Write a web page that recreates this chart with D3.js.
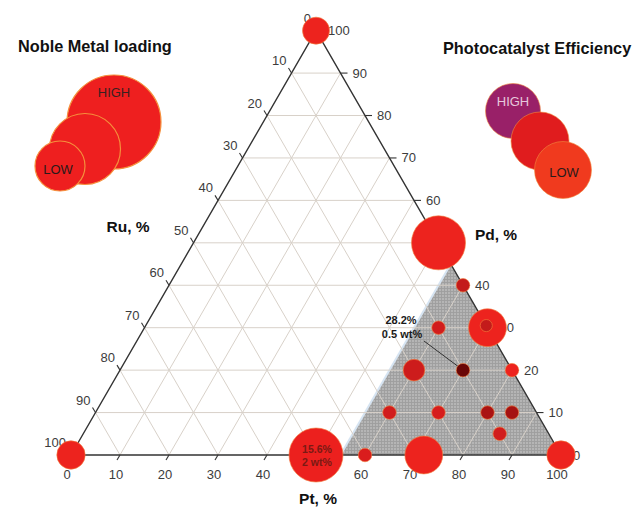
<!DOCTYPE html>
<html>
<head>
<meta charset="utf-8">
<script src="https://cdn.jsdelivr.net/npm/d3@7"></script>
<style>
  html, body { margin: 0; padding: 0; background: #fff; }
  svg { display: block; font-family: "Liberation Sans", Arial, sans-serif; }
</style>
</head>
<body>
<svg id="chart" width="644" height="508"></svg>
<script>
// Composition of each catalyst (Pt, Pd, Ru in %), its noble metal loading (wt%)
// and its photocatalytic efficiency (%).
const ptValues  = [0, 0, 100, 50, 50, 60, 72, 60, 70, 69.5, 60, 70, 80, 60, 60, 70, 80, 85, 85];
const pdValues  = [100, 0, 0, 50, 0, 0, 0, 40, 30, 30.5, 30, 20, 20, 20, 10, 10, 10, 10, 5];
const ruValues  = [0, 100, 0, 0, 50, 40, 28, 0, 0, 0, 10, 10, 0, 20, 30, 20, 10, 5, 10];
const loadingWt = [1.0, 1.05, 1.05, 2.0, 2.0, 0.5, 1.4, 0.5, 1.4, 0.45, 0.5, 0.5, 0.5, 0.8, 0.5, 0.5, 0.5, 0.5, 0.5];
const efficiency = [15, 15, 15, 15, 15.6, 18, 15, 20.5, 15, 20.5, 19, 28.2, 15, 19.5, 19, 18.5, 23, 23.5, 19];

// Points that carry a written value
const annotated = [4, 11];

// Axis ticks
const tickValues = d3.range(0, 101, 10);
const gridValues = d3.range(10, 100, 10);

// Shaded composition domain: Pt >= 55 %
const shadedPtMin = 55;

const svg = d3.select("#chart");

// Ternary frame: bottom edge runs Pt 0 -> 100, height encodes Pd.
const side = 490;
const xScale = d3.scaleLinear().domain([0, 100]).range([71, 71 + side]);
const yScale = d3.scaleLinear().domain([0, 100]).range([455, 455 - side * Math.sqrt(3) / 2]);
const px = (pt, pd) => xScale(pt + pd / 2);
const py = (pd) => yScale(pd);
const P = (pt, pd) => [px(pt, pd), py(pd)];

const rScale = d3.scaleLinear().domain([0, 2]).range([0, 27]);
const colorScale = d3.scaleLinear()
  .domain([10, 16, 20, 24, 28.2])
  .range(["#f03c1e", "#ec1e1e", "#c81c1c", "#a01010", "#6a0606"]);

// Mesh pattern for the shaded region
const defs = svg.append("defs");
const pat = defs.append("pattern").attr("id", "mesh")
  .attr("width", 3).attr("height", 3).attr("patternUnits", "userSpaceOnUse");
pat.append("rect").attr("width", 3).attr("height", 3).attr("fill", "#b5b5b5");
pat.append("path").attr("d", "M0,0.5H3M0.5,0V3").attr("stroke", "#9e9e9e").attr("stroke-width", 0.9);

const line = d3.line();

// Shaded region
const shadePts = [P(shadedPtMin, 0), P(100, 0), P(shadedPtMin, 100 - shadedPtMin)];
svg.append("path").attr("d", line(shadePts) + "Z").attr("fill", "url(#mesh)");
svg.append("path").attr("d", line([P(shadedPtMin, 0), P(shadedPtMin, 100 - shadedPtMin)]))
  .attr("stroke", "#d6e4f2").attr("stroke-width", 2).attr("fill", "none");

// Grid lines
const grid = svg.append("g").attr("stroke", "#d8d1c9").attr("stroke-width", 1).attr("fill", "none");
gridValues.forEach(v => {
  grid.append("path").attr("d", line([P(0, v), P(100 - v, v)]));        // Pd constant
  grid.append("path").attr("d", line([P(v, 0), P(v, 100 - v)]));        // Pt constant
  grid.append("path").attr("d", line([P(100 - v, 0), P(0, 100 - v)]));  // Ru constant
});

// Triangle frame
svg.append("path").attr("d", line([P(0, 0), P(100, 0), P(0, 100)]) + "Z")
  .attr("fill", "none").attr("stroke", "#333").attr("stroke-width", 1.4);

// Ticks and tick labels
const ticks = svg.append("g").attr("stroke", "#333").attr("stroke-width", 1.1);
const labels = svg.append("g").attr("font-size", 13).attr("fill", "#3c3c3c");
tickValues.forEach(v => {
  // Pt (bottom)
  const [bx, by] = P(v, 0);
  ticks.append("line").attr("x1", bx).attr("y1", by).attr("x2", bx - 3).attr("y2", by + 5);
  labels.append("text").attr("x", bx - 4).attr("y", by + 24).attr("text-anchor", "middle").text(v);
  // Pd (right)
  const [rx, ry] = P(100 - v, v);
  ticks.append("line").attr("x1", rx).attr("y1", ry).attr("x2", rx + 7).attr("y2", ry);
  labels.append("text").attr("x", rx + 12).attr("y", ry + 4.5).attr("text-anchor", "start").text(v);
  // Ru (left)
  const [lx, ly] = P(0, 100 - v);
  ticks.append("line").attr("x1", lx).attr("y1", ly).attr("x2", lx - 3).attr("y2", ly - 5);
  labels.append("text").attr("x", lx - 5).attr("y", ly - 8).attr("text-anchor", "end").text(v);
});

// Axis titles
const axisTitles = [
  { text: "Ru, %", x: 128, y: 232 },
  { text: "Pd, %", x: 496, y: 240 },
  { text: "Pt, %", x: 318, y: 504 }
];
svg.append("g").selectAll("text").data(axisTitles).join("text")
  .attr("x", d => d.x).attr("y", d => d.y).attr("text-anchor", "middle")
  .attr("font-weight", "bold").attr("font-size", 15.5).attr("fill", "#111")
  .text(d => d.text);

// Annotation leader line for the 28.2 % sample
const aIdx = annotated[1];
const [ax, ay] = P(ptValues[aIdx], pdValues[aIdx]);
svg.append("line").attr("x1", 424).attr("y1", 341).attr("x2", ax - 4).attr("y2", ay - 3)
  .attr("stroke", "#333").attr("stroke-width", 1);

// Data points
const points = ptValues.map((pt, i) => ({
  i, pt, pd: pdValues[i], ru: ruValues[i], wt: loadingWt[i], eff: efficiency[i]
}));
const order = points.slice().sort((a, b) => b.wt - a.wt);
svg.append("g").selectAll("circle").data(order).join("circle")
  .attr("cx", d => px(d.pt, d.pd))
  .attr("cy", d => py(d.pd))
  .attr("r", d => rScale(d.wt))
  .attr("fill", d => colorScale(d.eff))
  .attr("stroke", "#f27a3c").attr("stroke-opacity", 0.7).attr("stroke-width", 0.9);

// Written values
const bigIdx = annotated[0];
const [bx0, by0] = P(ptValues[bigIdx], pdValues[bigIdx]);
const inner = svg.append("g").attr("font-weight", "bold").attr("font-size", 10.5)
  .attr("fill", "#7a1a14").attr("text-anchor", "middle");
inner.append("text").attr("x", bx0 + 1).attr("y", by0 - 2).text(efficiency[bigIdx] + "%");
inner.append("text").attr("x", bx0 + 1).attr("y", by0 + 11).text(loadingWt[bigIdx] + " wt%");

const ann = svg.append("g").attr("font-weight", "bold").attr("font-size", 11)
  .attr("fill", "#1a1a1a").attr("text-anchor", "middle");
ann.append("text").attr("x", 401).attr("y", 324).text(efficiency[aIdx] + "%");
ann.append("text").attr("x", 402).attr("y", 338).text(loadingWt[aIdx] + " wt%");

// Legend: noble metal loading
svg.append("text").attr("x", 18).attr("y", 52).attr("font-weight", "bold")
  .attr("font-size", 16.3).attr("fill", "#111").text("Noble Metal loading");
const sizeLegend = [
  { cx: 114, cy: 122, r: 47 },
  { cx: 85, cy: 149, r: 35.5 },
  { cx: 60, cy: 166, r: 25 }
];
svg.append("g").selectAll("circle").data(sizeLegend).join("circle")
  .attr("cx", d => d.cx).attr("cy", d => d.cy).attr("r", d => d.r)
  .attr("fill", "#ee1f1f").attr("stroke", "#f5903c").attr("stroke-width", 1.2);
svg.append("text").attr("x", 114).attr("y", 97).attr("text-anchor", "middle")
  .attr("font-size", 13).attr("fill", "#3a2020").text("HIGH");
svg.append("text").attr("x", 58).attr("y", 174).attr("text-anchor", "middle")
  .attr("font-size", 13).attr("fill", "#2a1a1a").text("LOW");

// Legend: photocatalyst efficiency
svg.append("text").attr("x", 443).attr("y", 54).attr("font-weight", "bold")
  .attr("font-size", 16.3).attr("fill", "#111").text("Photocatalyst Efficiency");
const effLegend = [
  { cx: 513, cy: 111, r: 27.5, fill: "#992068" },
  { cx: 540, cy: 141, r: 29, fill: "#e01c1e" },
  { cx: 563, cy: 170, r: 28.5, fill: "#f03a1e" }
];
svg.append("g").selectAll("circle").data(effLegend).join("circle")
  .attr("cx", d => d.cx).attr("cy", d => d.cy).attr("r", d => d.r)
  .attr("fill", d => d.fill).attr("stroke", "#f08a40").attr("stroke-opacity", 0.6).attr("stroke-width", 1);
svg.append("text").attr("x", 513).attr("y", 106).attr("text-anchor", "middle")
  .attr("font-size", 13).attr("fill", "#e6c8dc").text("HIGH");
svg.append("text").attr("x", 564).attr("y", 177).attr("text-anchor", "middle")
  .attr("font-size", 13).attr("fill", "#2a1a1a").text("LOW");
</script>
</body>
</html>
